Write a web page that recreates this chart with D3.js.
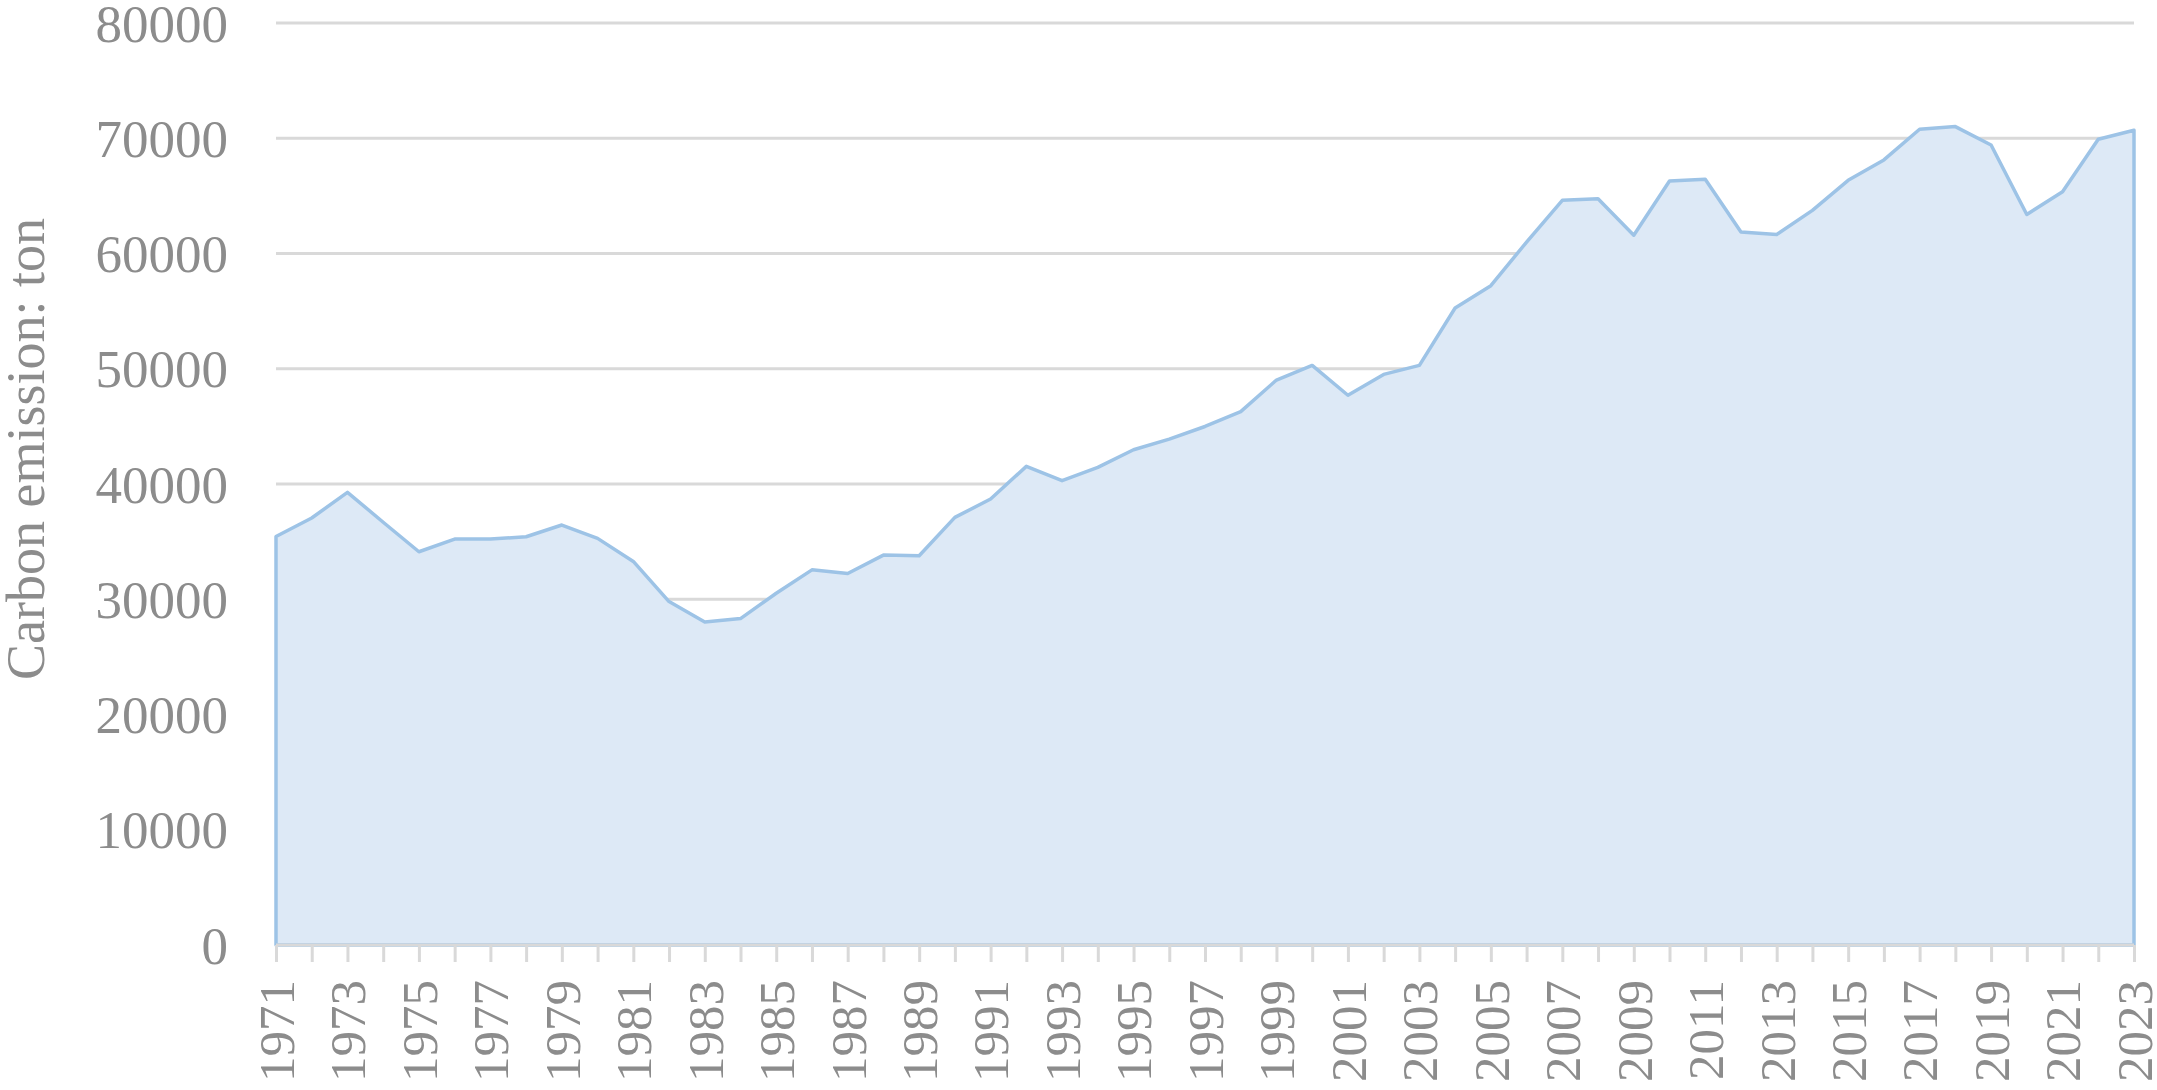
<!DOCTYPE html>
<html>
<head>
<meta charset="utf-8">
<script src="https://cdn.jsdelivr.net/npm/d3@7"></script>
<style>
  body { margin: 0; background: #fff; }
  svg { display: block; }
  text { font-family: "Liberation Serif", "Times New Roman", serif; fill: #8c8c8c; }
</style>
</head>
<body>
<svg width="2157" height="1090"></svg>
<script>
// years on the x axis
const years = [1971, 1972, 1973, 1974, 1975, 1976, 1977, 1978, 1979, 1980,
  1981, 1982, 1983, 1984, 1985, 1986, 1987, 1988, 1989, 1990,
  1991, 1992, 1993, 1994, 1995, 1996, 1997, 1998, 1999, 2000,
  2001, 2002, 2003, 2004, 2005, 2006, 2007, 2008, 2009, 2010,
  2011, 2012, 2013, 2014, 2015, 2016, 2017, 2018, 2019, 2020,
  2021, 2022, 2023];

// carbon emission (ton)
const emissions = [35450, 37050, 39280, 36680, 34120, 35220, 35220, 35420, 36440, 35280,
  33280, 29800, 28030, 28320, 30520, 32550, 32230, 33830, 33770, 37100,
  38700, 41530, 40290, 41440, 42970, 43890, 44990, 46280, 49020, 50290,
  47700, 49510, 50290, 55270, 57210, 60990, 64610, 64750, 61590, 66290,
  66440, 61860, 61650, 63740, 66350, 68120, 70780, 71010, 69420, 63390,
  65360, 69910, 70700];

const yTicks = [0, 10000, 20000, 30000, 40000, 50000, 60000, 70000, 80000];
const xLabelYears = years.filter((y, i) => i % 2 === 0);
const yTitle = "Carbon emission: ton";

document.addEventListener('DOMContentLoaded', () => {
    const svg = d3.select("svg");
    const left = 276, right = 2134, top = 23, bottom = 945;

    const x = d3.scaleLinear().domain([1971, 2023]).range([left, right]);
    const y = d3.scaleLinear().domain([0, 80000]).range([bottom, top]);

    const data = years.map((yr, i) => ({ year: yr, value: emissions[i] }));

    // gridlines
    svg.append("g")
        .selectAll("line")
        .data(yTicks.filter(d => d > 0))
        .enter().append("line")
        .attr("x1", left).attr("x2", right)
        .attr("y1", d => y(d)).attr("y2", d => y(d))
        .attr("stroke", "#d9d9d9")
        .attr("stroke-width", 3);

    // area with outline
    const area = d3.area()
        .x(d => x(d.year))
        .y0(y(0))
        .y1(d => y(d.value));

    svg.append("path")
        .datum(data)
        .attr("d", area)
        .attr("fill", "#dde9f6")
        .attr("stroke", "#9dc3e6")
        .attr("stroke-width", 3.5)
        .attr("stroke-linejoin", "round");

    // x axis: baseline, yearly ticks, labels every two years
    const xAxis = d3.axisBottom(x)
        .tickValues(years)
        .tickSize(17)
        .tickPadding(20)
        .tickFormat(d => xLabelYears.includes(d) ? d : "");

    const gx = svg.append("g")
        .attr("transform", `translate(0,${bottom})`)
        .call(xAxis);
    gx.select(".domain")
        .attr("d", `M${left},0H${right}`)
        .attr("stroke", "#d9d9d9")
        .attr("stroke-width", 3);
    gx.selectAll(".tick line")
        .attr("stroke", "#d9d9d9")
        .attr("stroke-width", 3);
    gx.selectAll(".tick text")
        .attr("transform", "rotate(-90)")
        .attr("x", -35)
        .attr("y", 0)
        .attr("dy", "0.34em")
        .attr("text-anchor", "end")
        .style("font-size", "51px")
        .style("font-family", "'Liberation Serif', 'Times New Roman', serif")
        .attr("fill", "#8c8c8c");

    // y axis labels
    const yAxis = d3.axisLeft(y)
        .tickValues(yTicks)
        .tickSize(0)
        .tickPadding(48)
        .tickFormat(d => String(d));

    const gy = svg.append("g")
        .attr("transform", `translate(${left},0)`)
        .call(yAxis);
    gy.select(".domain").remove();
    gy.selectAll(".tick text")
        .attr("dy", "0.34em")
        .style("font-size", "53px")
        .style("font-family", "'Liberation Serif', 'Times New Roman', serif")
        .attr("fill", "#8c8c8c");

    // y axis title
    svg.append("text")
        .attr("transform", "translate(44,449) rotate(-90)")
        .attr("text-anchor", "middle")
        .style("font-size", "54px")
        .text(yTitle);
});
</script>
</body>
</html>
